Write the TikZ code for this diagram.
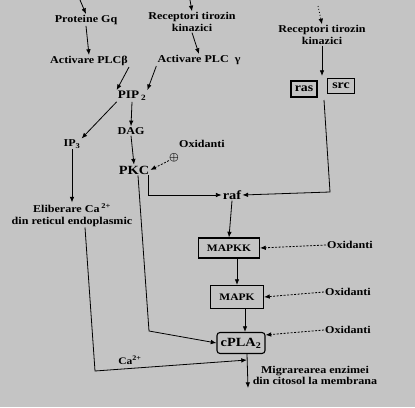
\documentclass[tikz,border=0pt]{standalone}
\usepackage{fontspec}
\setmainfont{Liberation Serif}[FakeStretch=1.15]
\usetikzlibrary{arrows.meta}
\definecolor{scangray}{HTML}{C4C4C4}

\begin{document}
\begin{tikzpicture}[x=1pt,y=-1pt,>=Latex,
  lbl/.style={font=\bfseries\fontsize{10.5}{11.5}\selectfont,align=center,inner sep=1pt},
  big/.style={font=\bfseries\fontsize{12.5}{14}\selectfont,inner sep=1pt},
  enzbox/.style={draw,line width=1.1pt,font=\bfseries\fontsize{10}{11}\selectfont,inner sep=0pt},
  arr/.style={-{Latex[length=2mm,width=1.6mm]},line width=0.8pt},
  oxarr/.style={-{Latex[length=2mm,width=1.6mm]},line width=0.8pt,dash pattern=on 2pt off 1.5pt}]
\fill[scangray] (0,0) rectangle (415,407);
\useasboundingbox (0,0) rectangle (415,407);
% upper part
\node[lbl] (gq) at (86,20) {Proteine Gq};
\node[lbl] (rtk1) at (192,22) {Receptori tirozin\\kinazici};
\node[lbl] (rtk2) at (322,35) {Receptori tirozin\\kinazici};
\node[lbl] (plcb) at (89,61) {Activare PLCβ};
\node[lbl] (plcg) at (199,60) {Activare PLC\ \ γ};
\node[lbl,font=\bfseries\fontsize{11.5}{12}\selectfont] (pip) at (132,96) {PIP\,\textsubscript{2}};
\node[lbl] (ip3) at (72,144) {IP\textsubscript{3}};
\node[lbl] (dag) at (131,131) {DAG};
\node[big] (pkc) at (134,170) {PKC};
\node[lbl] (oxpkc) at (202,144) {Oxidanti};
\node[inner sep=0pt,font=\boldmath\fontsize{11}{11}\selectfont] (plus) at (174,158) {$\oplus$};
\node[lbl] (elib) at (72,215) {Eliberare Ca\,\textsuperscript{2+}\\din reticul endoplasmic};
\node[enzbox,minimum width=26pt,minimum height=16pt,font=\bfseries\fontsize{12}{12}\selectfont] (ras) at (304,89) {ras};
\node[enzbox,minimum width=27pt,minimum height=15pt,font=\bfseries\fontsize{12}{12}\selectfont] (src) at (341,86) {src};
% kinase cascade
\node[big] (raf) at (232,195) {raf};
\node[enzbox,minimum width=61pt,minimum height=20pt] (mapkk) at (229,248) {MAPKK};
\node[enzbox,minimum width=53pt,minimum height=23pt] (mapk) at (237,297) {MAPK};
\node[enzbox,rounded corners=3pt,minimum width=48pt,minimum height=21pt,font=\bfseries\fontsize{12.5}{14}\selectfont] (cpla) at (241,343) {cPLA\textsubscript{2}};
\node[lbl] (ox1) at (350,245) {Oxidanti};
\node[lbl] (ox2) at (348,292) {Oxidanti};
\node[lbl] (ox3) at (348,330) {Oxidanti};
\node[lbl,font=\bfseries\fontsize{10.5}{11}\selectfont] (migr) at (315,375) {Migrarearea enzimei\\din citosol la membrana};
\node[lbl,font=\bfseries\fontsize{10}{10}\selectfont] (ca) at (130,360) {Ca\textsuperscript{2+}};
% free ends and corners
\coordinate (top1) at (80,0);
\coordinate (top2) at (190,0);
\coordinate (top3) at (318,6);
\coordinate (rsin) at (322,76);
\coordinate (rsout) at (324,100);
\coordinate (rscor) at (330,192);
\coordinate (kcor) at (149,331);
\coordinate (cacor) at (95,371);
\coordinate (camid) at (247,360);
\coordinate (outend) at (248,388);
% connectors
\draw[arr] (top1) -- (gq.north);
\draw[arr] (top2) -- (rtk1.north);
\draw[arr,dash pattern=on 1pt off 2pt] (top3) -- (rtk2.north);
\draw[arr] (gq.south) -- (plcb.north);
\draw[arr] (rtk1.south) -- (plcg.north);
\draw[arr] (plcb.south east) -- (pip.north west);
\draw[arr] (plcg.south west) -- (pip.north east);
\draw[arr] (pip.south west) -- (ip3.north east);
\draw[arr] (pip.south) -- (dag.north);
\draw[arr] (dag.south) -- (pkc.north);
\draw[oxarr] (plus) -- (pkc.east);
\draw[arr] (ip3.south) -- (elib.north);
\draw[arr] (rtk2.south) -- (rsin);
\draw[arr] (rsout) -- (rscor) -- (raf.east);
\draw[arr] ([xshift=-2pt]pkc.south east) |- (raf.west);
\draw[arr] (raf.south) -- (mapkk.north);
\draw[arr] (mapk.north |- mapkk.south) -- (mapk.north);
\draw[arr] ([xshift=4pt]cpla.north |- mapk.south) -- ([xshift=4pt]cpla.north);
\draw[oxarr] (ox1.west) -- (mapkk.east);
\draw[oxarr] (ox2.west) -- (mapk.east);
\draw[oxarr] (ox3.west) -- ([yshift=-3pt]cpla.north east);
\draw[arr] ([xshift=4pt]pkc.south) -- (kcor) -- (cpla.west);
\draw[arr] ([xshift=13pt]elib.south) -- (cacor) -- (camid);
\draw[arr] ([xshift=6pt]cpla.south) -- (outend);
\end{tikzpicture}
\end{document}
